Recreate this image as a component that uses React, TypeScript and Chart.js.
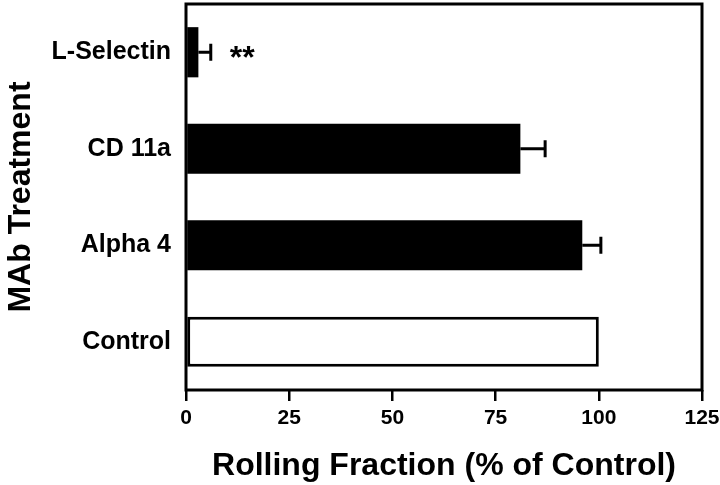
import React, { useEffect, useRef } from "react";
import { Chart, registerables } from "chart.js";

Chart.register(...registerables);

const categories = ["L-Selectin", "CD 11a", "Alpha 4", "Control"];
const values = [3, 81, 96, 100];
const errors = [3, 6, 4.5, 0];
const fills = ["#000000", "#000000", "#000000", "#ffffff"];
const borders = [0, 0, 0, 3];
const annotations = ["**", "", "", ""];
const xTitle = "Rolling Fraction (% of Control)";
const yTitle = "MAb Treatment";
const xMin = 0;
const xMax = 125;
const xStep = 25;

const FONT = "'Liberation Sans', Arial, Helvetica, sans-serif";

const framePlugin = {
  id: "frame",
  afterDatasetsDraw(chart: any) {
    const { ctx, chartArea } = chart;
    const xs = chart.scales.x;
    const meta = chart.getDatasetMeta(0);
    ctx.save();
    ctx.strokeStyle = "#000";
    ctx.lineWidth = 3;
    meta.data.forEach((bar: any, i: number) => {
      const e = errors[i];
      if (!e) return;
      const x0 = xs.getPixelForValue(values[i]);
      const x1 = xs.getPixelForValue(values[i] + e);
      const y = bar.y;
      ctx.beginPath();
      ctx.moveTo(x0, y);
      ctx.lineTo(x1, y);
      ctx.moveTo(x1, y - 8.5);
      ctx.lineTo(x1, y + 8.5);
      ctx.stroke();
    });
    ctx.fillStyle = "#000";
    ctx.font = `bold 32px ${FONT}`;
    ctx.textAlign = "left";
    ctx.textBaseline = "middle";
    meta.data.forEach((bar: any, i: number) => {
      const a = annotations[i];
      if (!a) return;
      const x = xs.getPixelForValue(values[i] + errors[i]);
      ctx.fillText(a, x + 19, bar.y + 7);
    });
    ctx.lineWidth = 3;
    ctx.strokeRect(
      chartArea.left,
      chartArea.top,
      chartArea.right - chartArea.left,
      chartArea.bottom - chartArea.top
    );
    ctx.restore();
  },
};

export default function App() {
  const ref = useRef<HTMLCanvasElement | null>(null);
  useEffect(() => {
    if (!ref.current) return;
    const chart = new Chart(ref.current, {
      type: "bar",
      data: {
        labels: categories,
        datasets: [
          {
            data: values,
            backgroundColor: fills,
            borderColor: "#000000",
            borderWidth: borders,
            borderSkipped: false,
            barPercentage: 0.52,
            categoryPercentage: 1,
          },
        ],
      },
      options: {
        responsive: false,
        animation: false,
        indexAxis: "y",
        layout: { padding: { top: 4, right: 18, left: 0, bottom: 0 } },
        plugins: {
          legend: { display: false },
          tooltip: { enabled: false },
        },
        scales: {
          x: {
            type: "linear",
            min: xMin,
            max: xMax,
            ticks: {
              stepSize: xStep,
              color: "#000",
              font: { family: FONT, size: 21, weight: "bold" },
              padding: 5,
            },
            grid: {
              drawOnChartArea: false,
              drawTicks: true,
              tickLength: 11,
              color: "#000",
              lineWidth: 2.5,
            },
            border: { display: false },
            title: {
              display: true,
              text: xTitle,
              color: "#000",
              font: { family: FONT, size: 32, weight: "bold" },
              padding: { top: 0, bottom: 0 },
            },
            afterFit: (s: any) => {
              s.height = 95;
              s.paddingLeft = 0;
              s.paddingRight = 0;
            },
          },
          y: {
            ticks: {
              color: "#000",
              font: { family: FONT, size: 25, weight: "bold" },
              padding: 15,
            },
            grid: { display: false, drawTicks: false },
            border: { display: false },
            title: {
              display: true,
              text: yTitle,
              color: "#000",
              font: { family: FONT, size: 32, weight: "bold" },
              padding: { top: 2, bottom: 0 },
            },
            afterFit: (s: any) => {
              s.width = 186;
              s.paddingTop = 0;
              s.paddingBottom = 0;
            },
          },
        },
      } as any,
      plugins: [framePlugin],
    });
    return () => chart.destroy();
  }, []);
  return (
    <div style={{ position: "absolute", left: 0, top: 0, width: 720, height: 485, background: "#fff" }}>
      <canvas ref={ref} width={720} height={485} style={{ display: "block" }} />
    </div>
  );
}
